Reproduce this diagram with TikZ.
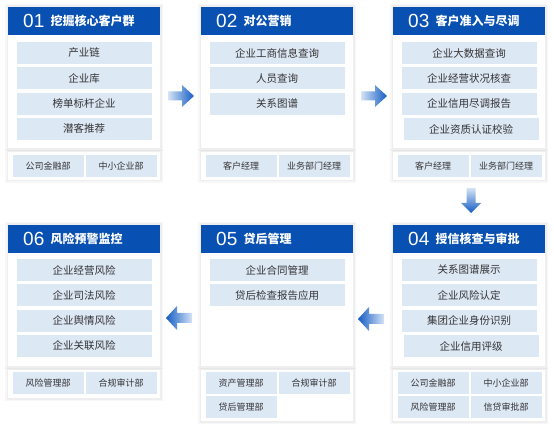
\documentclass[tikz,border=0pt]{standalone}
\usepackage{fontspec}
\newfontfamily\cjk{Noto Sans CJK SC}
\newfontfamily\numf{Liberation Sans}
\definecolor{hdrblue}{RGB}{8,80,178}
\definecolor{itemblue}{RGB}{221,232,245}
\definecolor{txtgray}{RGB}{51,51,51}
\definecolor{alight}{RGB}{212,227,246}
\definecolor{adark}{RGB}{20,92,196}
\newcommand\mkcard[6]{%
  \node[cardbox, minimum height=141, anchor=north west] (#1) at (#2,#3) {};
  \node[hdrbox, anchor=north west] (#1h) at (#2,#3) {};
  \node[numtxt, anchor=west] (#1n) at ([xshift=15]#1h.west) {#4};
  \node[ttltxt, anchor=west] (#1t) at ([xshift=6]#1n.east) {#5};
  \node[cardbox, minimum height=#6, anchor=north west] (#1f) at (#2,#3+145) {};
}
\newcommand\itemlist[4]{%
  \foreach \t [count=\i] in {#4} {\node[itembox] (#1i\i) at (#2,{#3+(\i-1)*25.3}) {\t};}
}
\newcommand\fitem[4]{\node[fitembox] (#1) at (#2,#3) {#4};}
\newcommand\rarrow[1]{\shade[left color=alight,right color=adark]
  ([shift={(-13,-4.5)}]#1) -- ++(14,0) -- ++(0,-6.5) -- ++(12,11) -- ++(-12,11) -- ++(0,-6.5) -- ++(-14,0) -- cycle;}
\newcommand\larrow[1]{\shade[left color=adark,right color=alight]
  ([shift={(13,-5)}]#1) -- ++(-15,0) -- ++(0,-7) -- ++(-11,12) -- ++(11,12) -- ++(0,-7) -- ++(15,0) -- cycle;}
\newcommand\darrow[1]{\shade[top color=alight,bottom color=adark]
  ([shift={(-4.5,-12.5)}]#1) -- ++(9,0) -- ++(0,15) -- ++(5.5,0) -- ++(-10,10) -- ++(-10,-10) -- ++(5.5,0) -- cycle;}
\begin{document}
\begin{tikzpicture}[x=1pt,y=-1pt,
  cardbox/.style={fill=white, minimum width=152, inner sep=0, outer sep=0,
    preaction={draw=black,opacity=0.03,line width=6},
    preaction={draw=black,opacity=0.035,line width=3}},
  hdrbox/.style={fill=hdrblue, minimum width=152, minimum height=28, inner sep=0, outer sep=0},
  numtxt/.style={text=white, font=\numf\fontsize{19}{20}\selectfont, inner sep=0},
  ttltxt/.style={text=white, font=\cjk\bfseries\fontsize{12}{14}\selectfont, inner sep=0},
  itembox/.style={fill=itemblue, minimum width=135, minimum height=22, inner sep=0, text=txtgray,
    font=\cjk\fontsize{10.5}{12}\selectfont},
  fitembox/.style={fill=itemblue, minimum width=71, minimum height=22, inner sep=0, text=txtgray,
    font=\cjk\fontsize{9}{11}\selectfont}]
\useasboundingbox[fill=white] (0,0) rectangle (554,427);

% Card 01
\mkcard{c1}{8}{7}{01}{挖掘核心客户群}{28}
\itemlist{c1}{84}{53}{产业链,企业库,榜单标杆企业,潜客推荐}
\fitem{c1a}{48}{166}{公司金融部}
\fitem{c1b}{121}{166}{中小企业部}

% Card 02
\mkcard{c2}{201}{7}{02}{对公营销}{28}
\itemlist{c2}{277}{53}{企业工商信息查询,人员查询,关系图谱}
\fitem{c2a}{241}{166}{客户经理}
\fitem{c2b}{314}{166}{业务部门经理}

% Card 03
\mkcard{c3}{393}{7}{03}{客户准入与尽调}{28}
\itemlist{c3}{469}{53}{企业大数据查询,企业经营状况核查,企业信用尽调报告}
\node[itembox] (c3i4) at (471,129) {企业资质认证校验};
\fitem{c3a}{433}{166}{客户经理}
\fitem{c3b}{506}{166}{业务部门经理}

% Card 04
\mkcard{c4}{393}{225}{04}{授信核查与审批}{51}
\itemlist{c4}{469}{270}{关系图谱展示,企业风险认定,集团企业身份识别}
\node[itembox] (c4i4) at (471,346) {企业信用评级};
\fitem{c4a}{433}{383}{公司金融部}
\fitem{c4b}{506}{383}{中小企业部}
\fitem{c4c}{433}{407}{风险管理部}
\fitem{c4d}{506}{407}{信贷审批部}

% Card 05
\mkcard{c5}{201}{225}{05}{贷后管理}{51}
\itemlist{c5}{277}{270}{企业合同管理,贷后检查报告应用}
\fitem{c5a}{241}{383}{资产管理部}
\fitem{c5b}{314}{383}{合规审计部}
\fitem{c5c}{241}{407}{贷后管理部}

% Card 06
\mkcard{c6}{8}{225}{06}{风险预警监控}{28}
\itemlist{c6}{84}{270}{企业经营风险,企业司法风险,企业舆情风险,企业关联风险}
\fitem{c6a}{48}{383}{风险管理部}
\fitem{c6b}{121}{383}{合规审计部}

% arrows
\coordinate (a12) at (181,96);
\coordinate (a23) at (374,96);
\coordinate (a34) at (471,200.5);
\coordinate (a45) at (371,319);
\coordinate (a56) at (179,318);
\rarrow{a12}
\rarrow{a23}
\darrow{a34}
\larrow{a45}
\larrow{a56}
\end{tikzpicture}
\end{document}
